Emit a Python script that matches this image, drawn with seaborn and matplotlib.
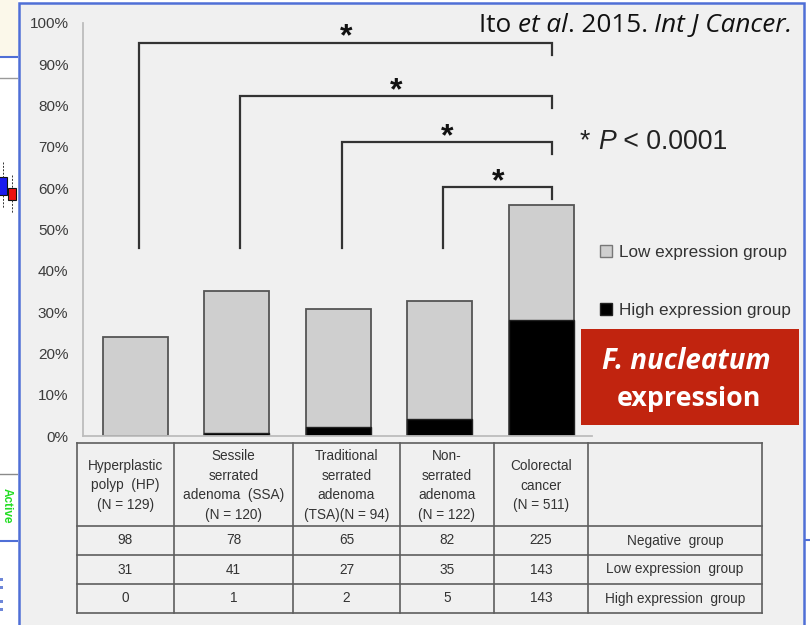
import matplotlib
matplotlib.use("Agg")
import matplotlib.pyplot as plt
import seaborn as sns
import pandas as pd
from matplotlib.patches import Rectangle, Patch

# ---- data -------------------------------------------------------------
groups = ["HP", "SSA", "TSA", "Non-serrated", "CRC"]
header_labels = [
    "Hyperplastic\npolyp  (HP)\n(N = 129)",
    "Sessile\nserrated\nadenoma  (SSA)\n(N = 120)",
    "Traditional\nserrated\nadenoma\n(TSA)(N = 94)",
    "Non-\nserrated\nadenoma\n(N = 122)",
    "Colorectal\ncancer\n(N = 511)",
]
n_cases = [129, 120, 94, 122, 511]
negative = [98, 78, 65, 82, 225]
low_expr = [31, 41, 27, 35, 143]
high_expr = [0, 1, 2, 5, 143]
row_labels = ["Negative  group", "Low expression  group", "High expression  group"]
y_ticks = [0, 10, 20, 30, 40, 50, 60, 70, 80, 90, 100]

# significance brackets: (left group index, right group index)
comparisons = [(0, 4), (1, 4), (2, 4), (3, 4)]

df = pd.DataFrame({
    "group": groups,
    "positive_pct": [100 * (l + h) / n for l, h, n in zip(low_expr, high_expr, n_cases)],
    "high_pct": [100 * h / n for h, n in zip(high_expr, n_cases)],
})

# ---- figure ------------------------------------------------------------
W, H = 810, 625
fig = plt.figure(figsize=(W / 100, H / 100), dpi=100, facecolor="white")
SANS = ["Liberation Sans", "DejaVu Sans"]
CAL = ["Open Sans", "DejaVu Sans"]

# background layer in pixel coordinates
bg = fig.add_axes([0, 0, 1, 1], zorder=0)
bg.set_xlim(0, W)
bg.set_ylim(H, 0)
bg.axis("off")

blue = "#4f6fd6"
bg.add_patch(Rectangle((19, 3), 785, 640, facecolor="#f0f0f0", edgecolor=blue, lw=1.8))

# strip of the neighbouring slide at the left edge
strip = fig.add_axes([0, 0, 18 / W, 1], zorder=0)
strip.set_xlim(0, 18)
strip.set_ylim(H, 0)
strip.axis("off")
strip.add_patch(Rectangle((0, 0), 18, 57, facecolor="#fbf8ea", edgecolor="none"))
strip.plot([0, 18], [57, 57], color=blue, lw=1.5)
strip.plot([0, 18], [78, 78], color="#9a9a9a", lw=1.0)
strip.add_patch(Rectangle((-4, 177), 11, 18, facecolor="#1a1aee", edgecolor="#111", lw=0.8))
strip.add_patch(Rectangle((8, 188), 8, 12, facecolor="#ee1111", edgecolor="#111", lw=0.8))
for xx, y0, y1 in [(3, 162, 177), (3, 195, 208), (12, 175, 188), (12, 200, 213)]:
    strip.plot([xx, xx], [y0, y1], color="#333", lw=0.7, ls=(0, (2, 1.5)))
strip.plot([0, 18], [474, 474], color="#8a8a8a", lw=1.0)
strip.text(7, 488, "Active", rotation=-90, color="#22dd22", fontsize=8.5, fontweight="bold",
           family=SANS, va="top", ha="center")
strip.plot([0, 18], [541, 541], color=blue, lw=1.5)
for yy in (578, 586, 600, 608):
    strip.add_patch(Rectangle((0, yy), 3, 3, facecolor="#6d86d8", edgecolor="none"))

# neighbouring slide at the right edge
right = fig.add_axes([805 / W, 0, 5 / W, 1], zorder=0)
right.set_xlim(0, 5)
right.set_ylim(H, 0)
right.axis("off")
right.plot([0, 5], [540, 540], color=blue, lw=1.5)

# ---- bar chart -----------------------------------------------------------
ax = fig.add_axes([83 / W, (H - 436) / H, 509 / W, 413 / H], zorder=2)
ax.patch.set_alpha(0)
sns.barplot(data=df, x="group", y="positive_pct", color="#cfcfcf", saturation=1,
            edgecolor="#555555", linewidth=1.3, width=0.64, errorbar=None, ax=ax)
sns.barplot(data=df, x="group", y="high_pct", color="black", saturation=1,
            edgecolor="#222222", linewidth=1.0, width=0.64, errorbar=None, ax=ax)
ax.set_xlim(-0.517, 4.5)
ax.set_ylim(0, 100)
ax.set_xticks([])
ax.set_xlabel("")
ax.set_ylabel("")
ax.set_yticks(y_ticks)
ax.set_yticklabels([f"{v}%" for v in y_ticks], family=SANS)
ax.tick_params(axis="y", length=0, pad=10.5, labelsize=11, labelcolor="#3c3c3c")
for s in ("top", "right"):
    ax.spines[s].set_visible(False)
for s in ("left", "bottom"):
    ax.spines[s].set_color("#bdbdbd")
    ax.spines[s].set_linewidth(1.3)

# significance brackets
bracket_y = [95.2, 82.3, 71.2, 60.3]
for (a, b), yb in zip(comparisons, bracket_y):
    xa, xb = a + 0.035, b + 0.11
    ax.plot([xa, xa, xb, xb], [45.6, yb, yb, yb - 3.0], color="#333333", lw=1.6,
            clip_on=False, solid_joinstyle="miter")
    ax.text((xa + xb) / 2, yb - 2.4, "*", ha="center", va="bottom", fontsize=23,
            fontweight="bold", family=SANS, color="#111111", clip_on=False)

ax.legend(handles=[Patch(facecolor="#cfcfcf", edgecolor="#777777", label="Low expression group"),
                   Patch(facecolor="black", edgecolor="#222222", label="High expression group")],
          loc="upper left", bbox_to_anchor=(600 / W, 1 - 245 / H), bbox_transform=fig.transFigure,
          frameon=False, borderpad=0, borderaxespad=0, handlelength=0.68, handleheight=0.68,
          handletextpad=0.42, labelspacing=2.5, prop={"family": SANS, "size": 12.3},
          labelcolor="#333333")

# ---- table under the bars ------------------------------------------------
col_x = [77, 174, 293, 400, 494, 588, 762]
row_y = [443, 526, 555, 584, 613]
tcol = "#5e5e5e"
for yy in row_y:
    bg.plot([col_x[0], col_x[-1]], [yy, yy], color=tcol, lw=1.2)
for xx in col_x:
    bg.plot([xx, xx], [row_y[0], row_y[-1]], color=tcol, lw=1.2)
tkw = dict(ha="center", va="center", fontsize=9.8, family=SANS, color="#333333")
for i, lab in enumerate(header_labels):
    cx = (col_x[i] + col_x[i + 1]) / 2
    bg.text(cx, (row_y[0] + row_y[1]) / 2 + 1, lab, linespacing=1.5, **tkw)
    for r, vals in enumerate([negative, low_expr, high_expr]):
        bg.text(cx, (row_y[r + 1] + row_y[r + 2]) / 2, str(vals[i]), **tkw)
for r, lab in enumerate(row_labels):
    bg.text((col_x[5] + col_x[6]) / 2, (row_y[r + 1] + row_y[r + 2]) / 2, lab, **tkw)


# ---- annotations -------------------------------------------------------
def run_text(x, y, parts, **kw):
    """Write text pieces one after another on a shared baseline."""
    prev = None
    for txt, style in parts:
        if prev is None:
            prev = bg.text(x, y, txt, va="baseline", ha="left", fontstyle=style, **kw)
        else:
            prev = bg.annotate(txt, xy=(1, 0), xycoords=prev, va="bottom", ha="left",
                               fontstyle=style, **kw)
    return prev


run_text(479, 32, [("Ito ", "normal"), ("et al", "italic"), (". 2015. ", "normal"),
                   ("Int J Cancer.", "italic")], fontsize=18.8, family=CAL, color="#111111")
run_text(580, 149, [("* ", "normal"), ("P", "italic"), (" < 0.0001", "normal")],
         fontsize=19.2, family=SANS, color="#222222")

bg.add_patch(Rectangle((581, 329), 218, 96, facecolor="#c1240f", edgecolor="none"))
bg.text(686, 361.5, "F. nucleatum", ha="center", va="center", fontsize=20, fontweight="bold",
        fontstyle="italic", family=CAL, color="white")
bg.text(689, 399.5, "expression", ha="center", va="center", fontsize=19.3, fontweight="bold",
        family=CAL, color="white")

fig.savefig("out.png", dpi=100, facecolor="white")
